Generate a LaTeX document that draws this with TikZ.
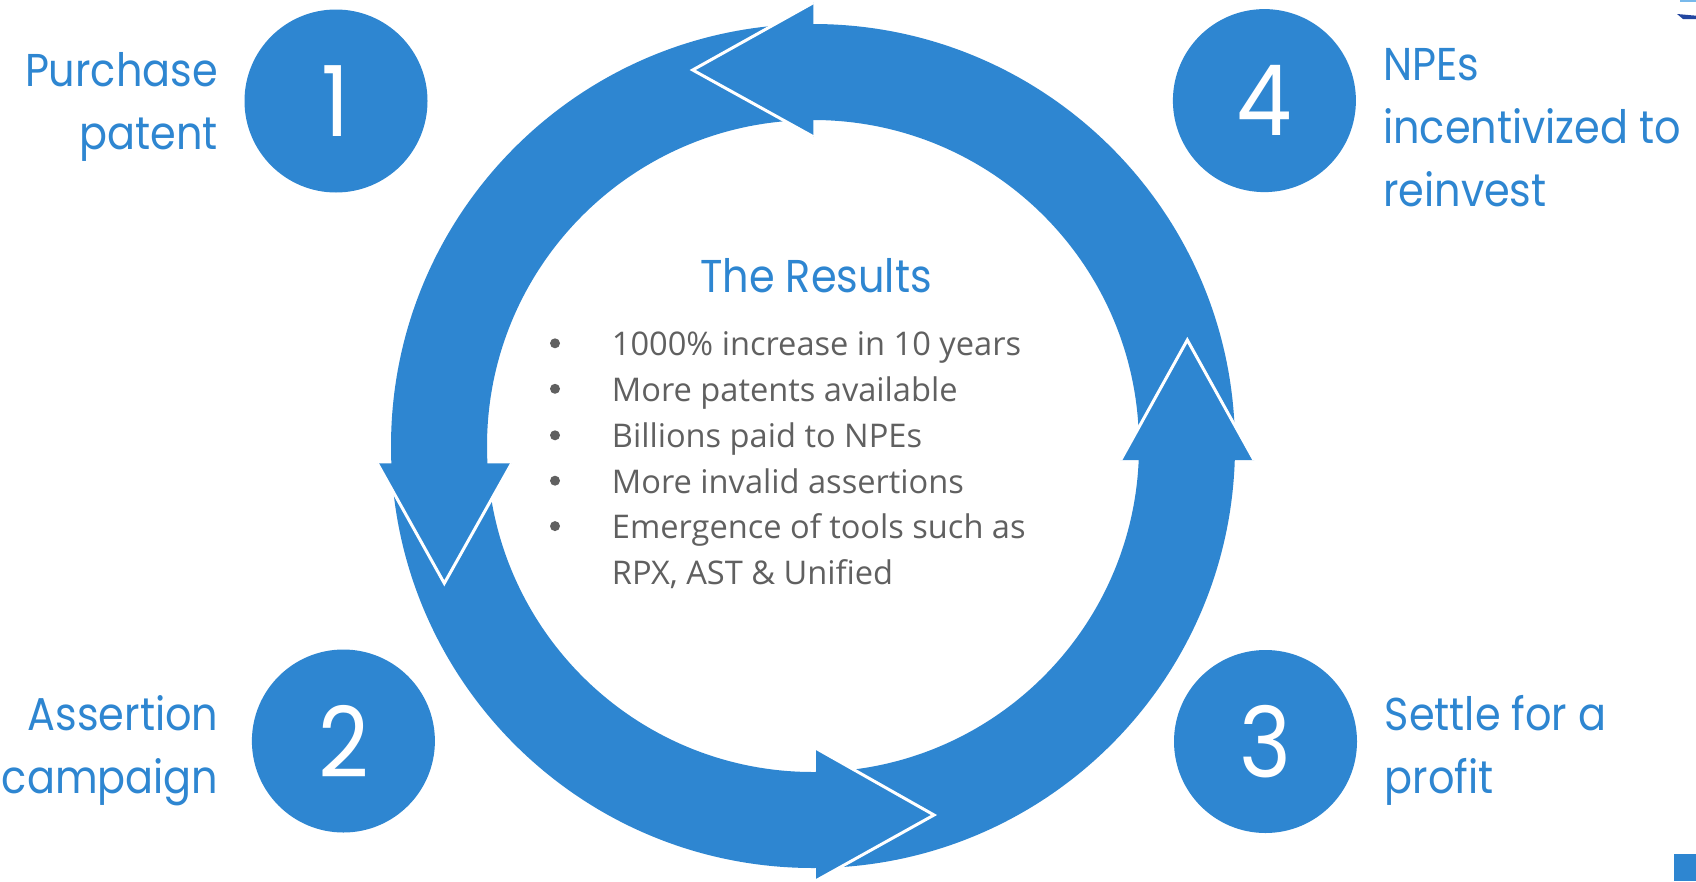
\documentclass[tikz,border=0pt]{standalone}
\usepackage{fontspec}
\newfontfamily\twfont{Poppins}[FakeStretch=0.9]
\newfontfamily\bodyfont{Open Sans}
\definecolor{ringblue}{RGB}{46,134,209}
\definecolor{bodygray}{RGB}{96,96,96}
\definecolor{navyblue}{RGB}{35,70,160}
\definecolor{paleblue}{RGB}{120,185,235}
\tikzset{
  numcirc/.style={circle, fill=ringblue, minimum size=183pt, inner sep=0pt, text=white, font=\twfont\fontsize{98}{98}\selectfont},
  steplabel/.style={text=ringblue, inner sep=0pt, font=\twfont\fontsize{46}{46}\selectfont},
  headtri/.style={fill=ringblue},
  headedge/.style={draw=white, line width=3pt, line join=miter},
  bullettext/.style={text=bodygray, inner sep=0pt, anchor=base west, font=\bodyfont\fontsize{32.6}{32.6}\selectfont},
  bulletdot/.style={circle, fill=bodygray, minimum size=10pt, inner sep=0pt},
}
\begin{document}
\begin{tikzpicture}[x=1pt,y=-1pt]
\useasboundingbox (0,0) rectangle (1696,881);
\fill[white] (0,0) rectangle (1696,881);
% ring
\coordinate (ctr) at (813,446);
\fill[ringblue, even odd rule] (ctr) circle[radius=422pt] (ctr) circle[radius=326pt];
% top head (pointing left)
\coordinate (hTa) at (813.3,2.7);
\coordinate (hTt) at (692.7,70);
\coordinate (hTb) at (813.3,136.7);
\fill[headtri] (hTa) -- (hTt) -- (hTb) -- cycle;
\draw[headedge] (hTa) -- (hTt) -- (hTb);
% right head (pointing up)
\coordinate (hRa) at (1120.7,460);
\coordinate (hRt) at (1187.3,340);
\coordinate (hRb) at (1254,460);
\fill[headtri] (hRa) -- (hRt) -- (hRb) -- cycle;
\draw[headedge] (hRa) -- (hRt) -- (hRb);
% left head (pointing down)
\coordinate (hLa) at (377.3,463.3);
\coordinate (hLt) at (444.3,583.3);
\coordinate (hLb) at (511.7,463.3);
\fill[headtri] (hLa) -- (hLt) -- (hLb) -- cycle;
\draw[headedge] (hLa) -- (hLt) -- (hLb);
% bottom head (pointing right)
\coordinate (hBa) at (816,748.3);
\coordinate (hBt) at (934,815);
\coordinate (hBb) at (816,880.7);
\fill[headtri] (hBa) -- (hBt) -- (hBb) -- cycle;
\draw[headedge] (hBa) -- (hBt) -- (hBb);
% numbered circles
\node[numcirc] (c1) at (336,101) {1};
\node[numcirc] (c4) at (1264.4,100.6) {4};
\node[numcirc] (c2) at (343.4,741) {2};
\node[numcirc] (c3) at (1265.5,741.5) {3};
% step labels
\node[steplabel, anchor=base east] (t1a) at (218,86.7) {Purchase};
\node[steplabel, anchor=base east] (t1b) at (218,149.3) {patent};
\node[steplabel, anchor=base east] (t2a) at (218.5,730) {Assertion};
\node[steplabel, anchor=base east] (t2b) at (218.5,793) {campaign};
\node[steplabel, anchor=base west] (t4a) at (1383,80) {NPEs};
\node[steplabel, anchor=base west] (t4b) at (1383,143.3) {incentivized to};
\node[steplabel, anchor=base west] (t4c) at (1383,206.7) {reinvest};
\node[steplabel, anchor=base west] (t3a) at (1384.5,730) {Settle for a};
\node[steplabel, anchor=base west] (t3b) at (1384.5,793) {profit};
% results
\node[steplabel, anchor=base] (res) at (816,292.7) {The Results};
\node[bulletdot] (d1) at (555,343.3) {};
\node[bulletdot] (d2) at (555,388.8) {};
\node[bulletdot] (d3) at (555,435.3) {};
\node[bulletdot] (d4) at (555,480.7) {};
\node[bulletdot] (d5) at (555,526.1) {};
\node[bullettext] (b1) at (611.7,355.8) {1000\% increase in 10 years};
\node[bullettext] (b2) at (611.7,401.3) {More patents available};
\node[bullettext] (b3) at (611.7,447.8) {Billions paid to NPEs};
\node[bullettext] (b4) at (611.7,493.2) {More invalid assertions};
\node[bullettext] (b5) at (611.7,538.6) {Emergence of tools such as};
\node[bullettext] (b6) at (611.7,584) {RPX, AST \& Unified};
% clipped slide fragments at the right edge
\fill[paleblue] (1680,0) rectangle (1696,1.6);
\fill[navyblue] (1677,14) -- (1696,15.7) -- (1696,19) -- (1683,19) -- cycle;
\fill[ringblue] (1674,854) rectangle (1696,881);
\end{tikzpicture}
\end{document}
